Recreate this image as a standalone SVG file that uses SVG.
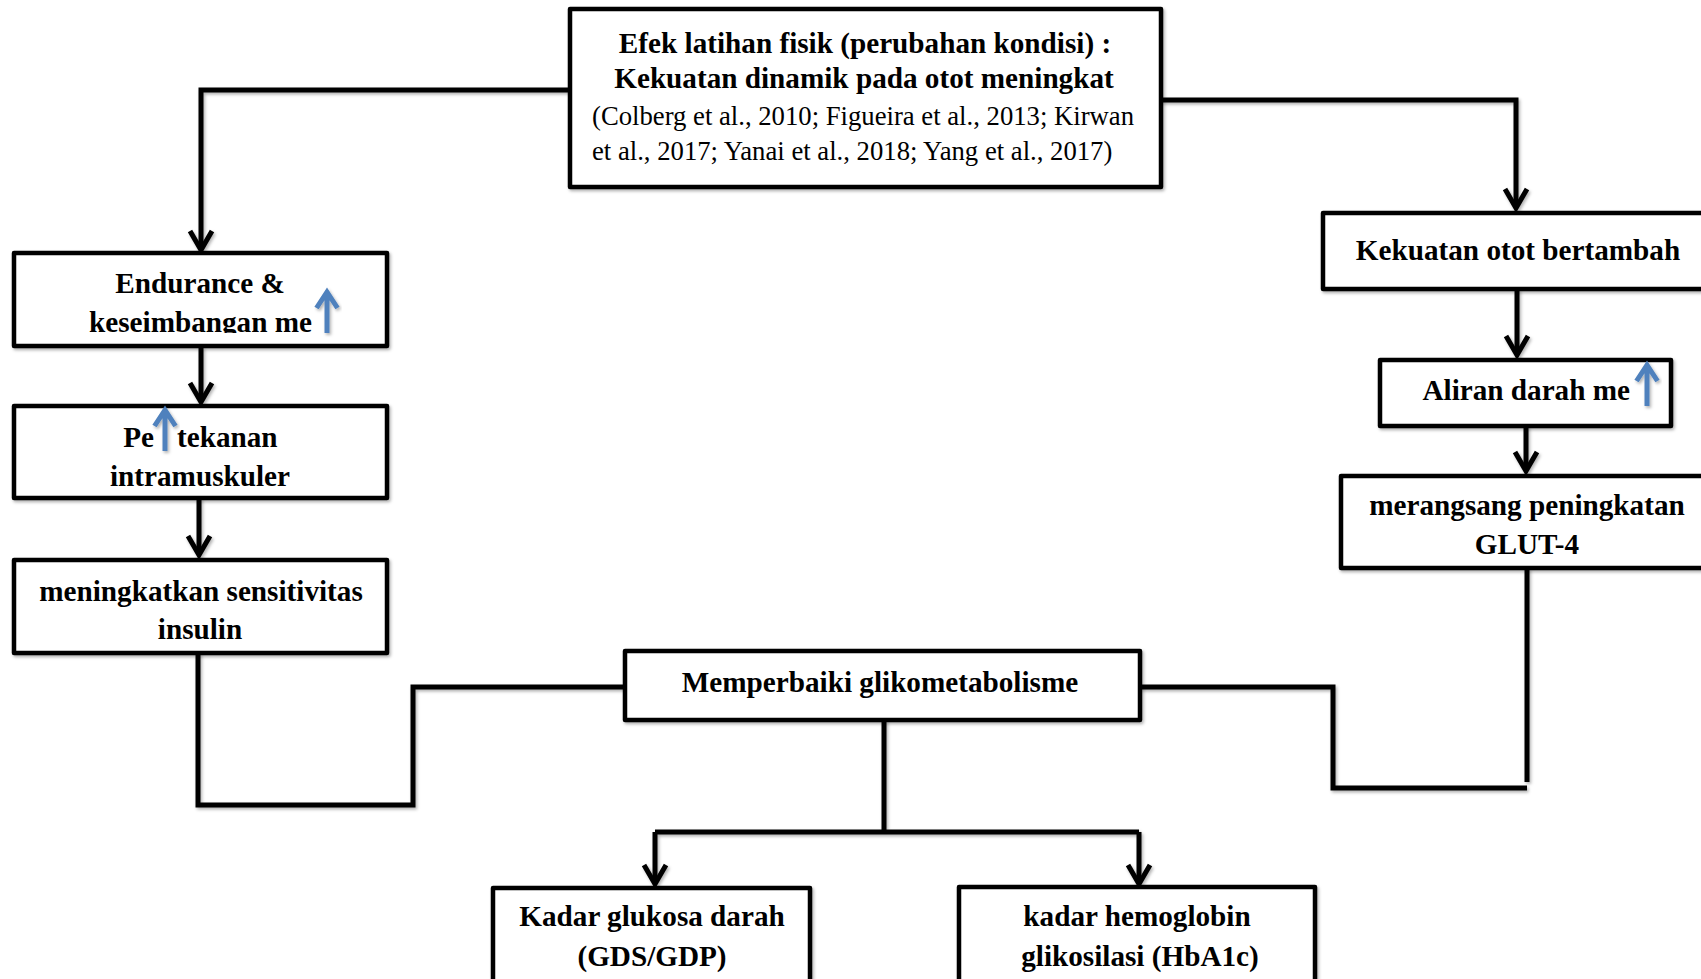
<svg xmlns="http://www.w3.org/2000/svg" width="1701" height="979" viewBox="0 0 1701 979">
<style>
.box{fill:#fff;stroke:#000;stroke-width:4.5;stroke-linejoin:round}
.con{fill:none;stroke:#000;stroke-width:5;stroke-linejoin:miter}
.b{font-family:"Liberation Serif","Times New Roman",serif;font-weight:bold;font-size:29.2px;fill:#000;text-anchor:middle}
.r{font-family:"Liberation Serif","Times New Roman",serif;font-size:26.7px;fill:#000;text-anchor:start}
.st{text-anchor:start}
.en{text-anchor:end}
.up{fill:none;stroke:#4F81BD;stroke-width:5;stroke-linecap:butt;stroke-linejoin:miter}
</style>
<defs>
<filter id="sh" x="-10%" y="-10%" width="130%" height="130%">
<feDropShadow dx="1.5" dy="2" stdDeviation="1.5" flood-color="#000" flood-opacity="0.3"/>
</filter>
<marker id="ah" markerUnits="userSpaceOnUse" markerWidth="40" markerHeight="40" refX="0" refY="0" orient="auto" overflow="visible">
<path d="M-19,-11 L0,0 L-19,11" fill="none" stroke="#000" stroke-width="5" stroke-linejoin="miter"/>
</marker>
<clipPath id="clip1"><rect x="0" y="250" width="400" height="83"/></clipPath>
</defs>
<rect width="1701" height="979" fill="#fff"/>

<g id="connectors" filter="url(#sh)">
<path class="con" d="M570 90 H201 V250" marker-end="url(#ah)"/>
<path class="con" d="M1161 100 H1516 V208" marker-end="url(#ah)"/>
<path class="con" d="M201 347 V402" marker-end="url(#ah)"/>
<path class="con" d="M199 498 V555" marker-end="url(#ah)"/>
<path class="con" d="M1517 289 V355" marker-end="url(#ah)"/>
<path class="con" d="M1526 426 V471" marker-end="url(#ah)"/>
<path class="con" d="M198 653 V805 H413 V687 H625"/>
<path class="con" d="M1527 568 V782"/>
<path class="con" d="M1527 788 H1333 V687 H1140"/>
<path class="con" d="M884 720 V832 M655 832 H1139"/>
<path class="con" d="M655 832 V884" marker-end="url(#ah)"/>
<path class="con" d="M1139 832 V884" marker-end="url(#ah)"/>
</g>

<g id="n-efek">
<rect class="box" x="570" y="9" width="591" height="178" filter="url(#sh)"/>
<text class="b" x="865" y="53">Efek latihan fisik (perubahan kondisi) :</text>
<text class="b" x="864" y="88">Kekuatan dinamik pada otot meningkat</text>
<text class="r" x="592" y="125">(Colberg et al., 2010; Figueira et al., 2013; Kirwan</text>
<text class="r" x="592" y="160">et al., 2017; Yanai et al., 2018; Yang et al., 2017)</text>
</g>

<g id="n-endurance">
<rect class="box" x="14" y="253" width="373" height="93" filter="url(#sh)"/>
<text class="b" x="200" y="293">Endurance &amp;</text>
<g clip-path="url(#clip1)">
<text class="b en" x="312" y="332">keseimbangan me</text>
</g>
<path class="up" d="M327 333 V294 M316.5 308 L327 292 L337.5 308" filter="url(#sh)"/>
</g>

<g id="n-tekanan">
<rect class="box" x="14" y="406" width="373" height="92" filter="url(#sh)"/>
<text class="b en" x="154" y="447">Pe</text>
<text class="b st" x="177" y="447">tekanan</text>
<text class="b" x="200" y="486">intramuskuler</text>
<path class="up" d="M165 451 V412 M154.5 426 L165 410 L175.5 426" filter="url(#sh)"/>
</g>

<g id="n-insulin">
<rect class="box" x="14" y="560" width="373" height="93" filter="url(#sh)"/>
<text class="b" x="201" y="601">meningkatkan sensitivitas</text>
<text class="b" x="200" y="639">insulin</text>
</g>

<g id="n-kekuatan">
<rect class="box" x="1323" y="213" width="400" height="76" filter="url(#sh)"/>
<text class="b" x="1518" y="260">Kekuatan otot bertambah</text>
</g>

<g id="n-aliran">
<rect class="box" x="1380" y="360" width="291" height="66" filter="url(#sh)"/>
<text class="b en" x="1630" y="400">Aliran darah me</text>
<path class="up" d="M1647 406 V367 M1636.5 381 L1647 365 L1657.5 381" filter="url(#sh)"/>
</g>

<g id="n-glut">
<rect class="box" x="1341" y="476" width="400" height="92" filter="url(#sh)"/>
<text class="b" x="1527" y="515">merangsang peningkatan</text>
<text class="b" x="1527" y="554">GLUT-4</text>
</g>

<g id="n-glikometabolisme">
<rect class="box" x="625" y="651" width="515" height="69" filter="url(#sh)"/>
<text class="b" x="880" y="692">Memperbaiki glikometabolisme</text>
</g>

<g id="n-glukosa">
<rect class="box" x="493" y="888" width="317" height="120" filter="url(#sh)"/>
<text class="b" x="652" y="926">Kadar glukosa darah</text>
<text class="b" x="652" y="966">(GDS/GDP)</text>
</g>

<g id="n-hba1c">
<rect class="box" x="959" y="887" width="356" height="120" filter="url(#sh)"/>
<text class="b" x="1137" y="926">kadar hemoglobin</text>
<text class="b" x="1140" y="966">glikosilasi (HbA1c)</text>
</g>
</svg>
